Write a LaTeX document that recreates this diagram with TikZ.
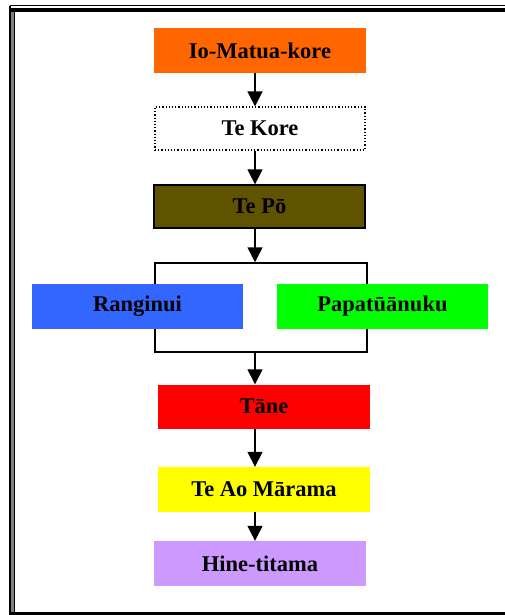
\documentclass[tikz,border=0pt]{standalone}
\usepackage{fontspec}
\setmainfont{Liberation Serif}
\usetikzlibrary{arrows.meta}

\definecolor{iocol}{HTML}{FF6600}
\definecolor{pocol}{HTML}{5F5300}
\definecolor{rangicol}{HTML}{3366FF}
\definecolor{papacol}{HTML}{00FF00}
\definecolor{tanecol}{HTML}{FF0000}
\definecolor{aocol}{HTML}{FFFF00}
\definecolor{hinecol}{HTML}{CC99FF}

\tikzset{
  box/.style={minimum width=212pt, minimum height=45pt, inner sep=0pt,
    font=\fontsize{22.5}{26}\selectfont\bfseries},
  arr/.style={line width=1.5pt, -{Triangle[width=15pt,length=15pt]}},
}

\begin{document}
\begin{tikzpicture}[x=1pt,y=-1pt]
            \useasboundingbox (0,0) rectangle (504,615);
            % frame
            \draw[line width=3pt,color=gray] (12.5,10) rectangle (515,630);
            \draw[line width=1pt] (14.5,11.5) rectangle (515,630);
            \draw[line width=3.2pt] (11,10) -- (515,10);
            \draw[line width=1pt] (9.5,6) -- (515,6);
            \draw[line width=2pt] (10,6) -- (10,613.5) -- (515,613.5);
            \draw[line width=3pt] (9,613.5) -- (515,613.5);

            \coordinate (spine) at (255,0);

            \node[box,fill=iocol] (io) at (260,50.5) {Io-Matua-kore};
            \node[box,draw,dotted,line width=1.2pt,minimum width=210pt,minimum height=43pt] (kore) at (260,128.5) {Te Kore};
            \node[box,draw,fill=pocol,line width=1.3pt,minimum width=211pt,minimum height=43pt] (po) at (259.5,206.5) {Te Pō};

            \node[draw,line width=1.5pt,minimum width=212pt,minimum height=89pt,inner sep=0pt] (pair) at (261,307.5) {};
            \node[box,fill=rangicol,minimum width=211pt] (rangi) at (137.5,306.5) {Ranginui};
            \node[box,fill=papacol,minimum width=211pt] (papa) at (382.5,306.5) {Papatūānuku};

            \node[box,fill=tanecol,minimum height=44pt] (tane) at (264,406.5) {Tāne};
            \node[box,fill=aocol] (ao) at (264,489.5) {Te Ao Mārama};
            \node[box,fill=hinecol] (hine) at (260,563.5) {Hine-titama};

            \draw[arr] (io.south -| spine) -- (kore.north -| spine);
            \draw[arr] (kore.south -| spine) -- (po.north -| spine);
            \draw[arr] (po.south -| spine) -- (pair.north -| spine);
            \draw[arr] (pair.south -| spine) -- (tane.north -| spine);
            \draw[arr] (tane.south -| spine) -- (ao.north -| spine);
            \draw[arr] (ao.south -| spine) -- (hine.north -| spine);
\end{tikzpicture}
\end{document}
